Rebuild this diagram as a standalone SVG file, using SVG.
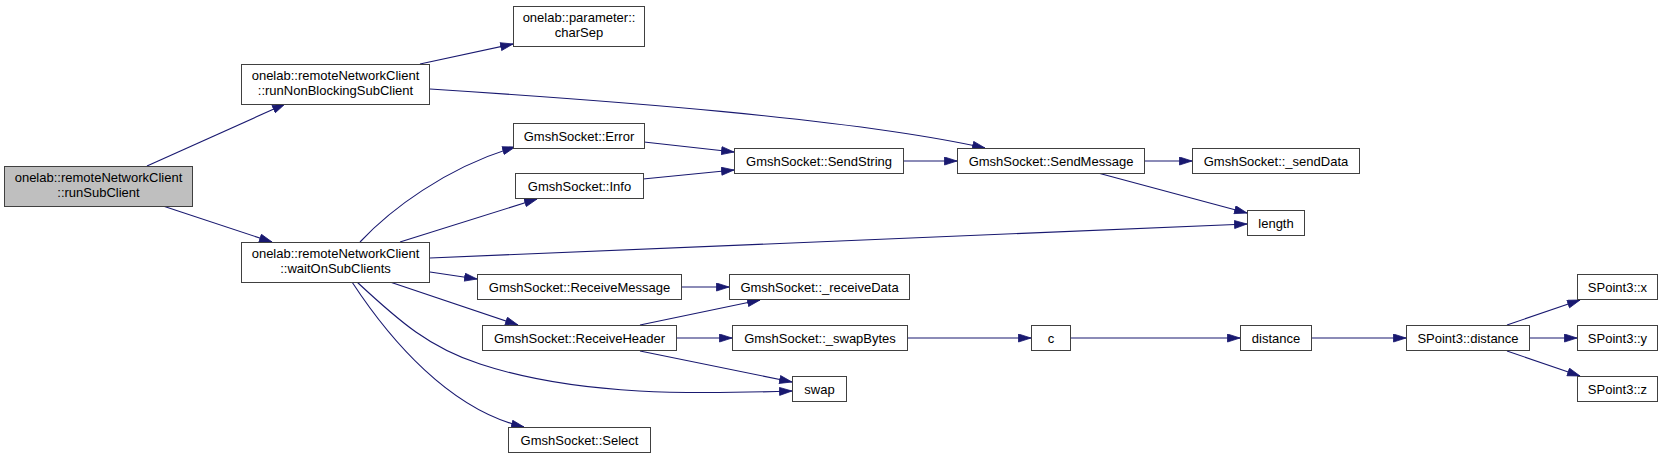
<svg xmlns="http://www.w3.org/2000/svg" width="1663" height="458" viewBox="0 0 1663 458">
<defs>
<marker id="arr" markerUnits="userSpaceOnUse" markerWidth="14" markerHeight="10" refX="13" refY="4.5" orient="auto">
<path d="M0.5,0.5 L13,4.5 L0.5,8.5 z" fill="#191970" stroke="#191970" stroke-width="0.8"/>
</marker>
</defs>
<style>
.n rect{fill:#ffffff;stroke:#404040;stroke-width:1}
.n.root rect{fill:#bfbfbf}
.n text{font-family:"Liberation Sans",Arial,sans-serif;font-size:13px;fill:#000000;text-anchor:middle}
#edges path{fill:none;stroke:#191970;stroke-width:1.1;marker-end:url(#arr)}
</style>
<rect width="1663" height="458" fill="#ffffff"/>
<g id="edges">
<path d="M147,166 L285,104"/>
<path d="M163,206 L272,242"/>
<path d="M420,64 L513,44"/>
<path d="M430,89 C600,100 850,118 985,148"/>
<path d="M360,242 C390,210 445,168 515,147"/>
<path d="M400,242 L537,199"/>
<path d="M430,258 L1247,224"/>
<path d="M430,272 L477,279"/>
<path d="M390,282 L518,325"/>
<path d="M357,282 C400,322 430,348 480,364 C580,397 700,394 792,391"/>
<path d="M352,282 C390,340 450,410 524,427"/>
<path d="M644,142 L734,152"/>
<path d="M643,179 L734,170"/>
<path d="M903,161 L957,161"/>
<path d="M1144,161 L1192,161"/>
<path d="M1098,173 L1247,213"/>
<path d="M681,287 L729,287"/>
<path d="M640,325 L760,300"/>
<path d="M676,338 L732,338"/>
<path d="M640,351 L792,382"/>
<path d="M907,338 L1031,338"/>
<path d="M1070,338 L1240,338"/>
<path d="M1311,338 L1406,338"/>
<path d="M1507,325 L1580,300"/>
<path d="M1529,338 L1577,338"/>
<path d="M1507,351 L1580,376"/>
</g>
<g id="runSubClient" class="n root"><rect x="4.5" y="166.5" width="188" height="40"/><text x="98.5" y="181.5">onelab::remoteNetworkClient</text><text x="98.5" y="197">::runSubClient</text></g>
<g id="runNonBlockingSubClient" class="n"><rect x="241.5" y="64.5" width="188" height="40"/><text x="335.5" y="79.5">onelab::remoteNetworkClient</text><text x="335.5" y="95">::runNonBlockingSubClient</text></g>
<g id="waitOnSubClients" class="n"><rect x="241.5" y="242.5" width="188" height="40"/><text x="335.5" y="257.5">onelab::remoteNetworkClient</text><text x="335.5" y="273">::waitOnSubClients</text></g>
<g id="charSep" class="n"><rect x="513.5" y="6.5" width="131" height="40"/><text x="579" y="21.5">onelab::parameter::</text><text x="579" y="37">charSep</text></g>
<g id="Error" class="n"><rect x="513.5" y="123.5" width="131" height="25"/><text x="579" y="140.5">GmshSocket::Error</text></g>
<g id="Info" class="n"><rect x="515.5" y="173.5" width="128" height="25"/><text x="579.5" y="190.5">GmshSocket::Info</text></g>
<g id="ReceiveMessage" class="n"><rect x="477.5" y="274.5" width="204" height="25"/><text x="579.5" y="291.5">GmshSocket::ReceiveMessage</text></g>
<g id="ReceiveHeader" class="n"><rect x="482.5" y="325.5" width="194" height="25"/><text x="579.5" y="342.5">GmshSocket::ReceiveHeader</text></g>
<g id="Select" class="n"><rect x="508.5" y="427.5" width="142" height="25"/><text x="579.5" y="444.5">GmshSocket::Select</text></g>
<g id="SendString" class="n"><rect x="734.5" y="148.5" width="169" height="25"/><text x="819" y="165.5">GmshSocket::SendString</text></g>
<g id="receiveData" class="n"><rect x="729.5" y="274.5" width="180" height="25"/><text x="819.5" y="291.5">GmshSocket::_receiveData</text></g>
<g id="swapBytes" class="n"><rect x="732.5" y="325.5" width="175" height="25"/><text x="820" y="342.5">GmshSocket::_swapBytes</text></g>
<g id="swap" class="n"><rect x="792.5" y="376.5" width="54" height="25"/><text x="819.5" y="393.5">swap</text></g>
<g id="SendMessage" class="n"><rect x="957.5" y="148.5" width="187" height="25"/><text x="1051" y="165.5">GmshSocket::SendMessage</text></g>
<g id="sendData" class="n"><rect x="1192.5" y="148.5" width="167" height="25"/><text x="1276" y="165.5">GmshSocket::_sendData</text></g>
<g id="length" class="n"><rect x="1247.5" y="210.5" width="57" height="25"/><text x="1276" y="227.5">length</text></g>
<g id="c" class="n"><rect x="1031.5" y="325.5" width="39" height="25"/><text x="1051" y="342.5">c</text></g>
<g id="distance" class="n"><rect x="1240.5" y="325.5" width="71" height="25"/><text x="1276" y="342.5">distance</text></g>
<g id="SPoint3_distance" class="n"><rect x="1406.5" y="325.5" width="123" height="25"/><text x="1468" y="342.5">SPoint3::distance</text></g>
<g id="SPoint3_x" class="n"><rect x="1577.5" y="274.5" width="80" height="25"/><text x="1617.5" y="291.5">SPoint3::x</text></g>
<g id="SPoint3_y" class="n"><rect x="1577.5" y="325.5" width="80" height="25"/><text x="1617.5" y="342.5">SPoint3::y</text></g>
<g id="SPoint3_z" class="n"><rect x="1577.5" y="376.5" width="80" height="25"/><text x="1617.5" y="393.5">SPoint3::z</text></g>
</svg>
